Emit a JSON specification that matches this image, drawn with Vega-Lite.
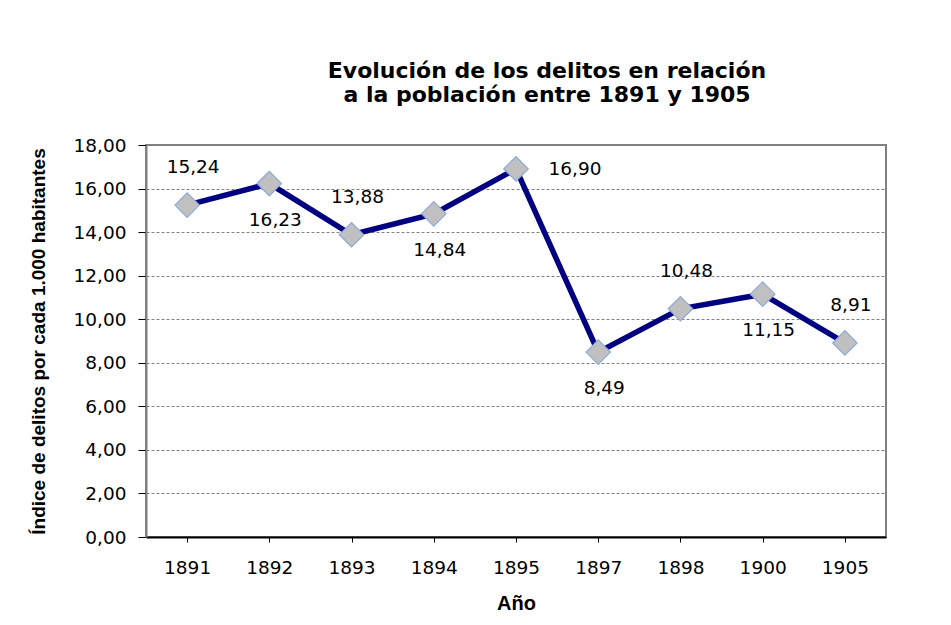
{
  "$schema": "https://vega.github.io/schema/vega-lite/v6.json",
  "width": 740,
  "height": 392,
  "autosize": "none",
  "padding": {"left": 146, "top": 145, "right": 65, "bottom": 88},
  "background": "white",
  "config": {
    "locale": {"number": {"decimal": ",", "thousands": ".", "grouping": [3], "currency": ["", " €"]}},
    "view": {"stroke": "#808080", "strokeWidth": 2},
    "font": "DejaVu Sans"
  },
  "title": {
    "text": ["Evolución de los delitos en relación", "a la población entre 1891 y 1905"],
    "font": "DejaVu Sans",
    "fontSize": 22,
    "fontWeight": "bold",
    "color": "black",
    "anchor": "middle",
    "dx": 31,
    "offset": 29,
    "lineHeight": 24
  },
  "data": {
    "values": [
      {"year": "1891", "indice": 15.24},
      {"year": "1892", "indice": 16.23},
      {"year": "1893", "indice": 13.88},
      {"year": "1894", "indice": 14.84},
      {"year": "1895", "indice": 16.90},
      {"year": "1897", "indice": 8.49},
      {"year": "1898", "indice": 10.48},
      {"year": "1900", "indice": 11.15},
      {"year": "1905", "indice": 8.91}
    ]
  },
  "encoding": {
    "x": {
      "field": "year",
      "type": "ordinal",
      "sort": null,
      "scale": {"paddingInner": 0, "paddingOuter": 0},
      "axis": {
        "title": "Año",
        "titleFont": "Liberation Sans",
        "titleFontSize": 20,
        "titleFontWeight": "bold",
        "titleColor": "black",
        "titlePadding": 17,
        "labelAngle": 0,
        "labelFont": "DejaVu Sans",
        "labelFontSize": 18.5,
        "labelColor": "black",
        "labelPadding": 16,
        "domainColor": "black",
        "domainWidth": 2,
        "tickColor": "black",
        "tickSize": 5,
        "tickWidth": 1,
        "grid": false
      }
    },
    "y": {
      "field": "indice",
      "type": "quantitative",
      "scale": {"domain": [0, 18], "nice": false, "zero": true},
      "axis": {
        "title": "Índice de delitos por cada 1.000 habitantes",
        "titleFont": "Liberation Sans",
        "titleFontSize": 19,
        "titleFontWeight": "bold",
        "titleColor": "black",
        "titlePadding": 25,
        "values": [0, 2, 4, 6, 8, 10, 12, 14, 16, 18],
        "format": ".2f",
        "labelFont": "DejaVu Sans",
        "labelFontSize": 18.5,
        "labelColor": "black",
        "labelPadding": 12,
        "domainColor": "#808080",
        "domainWidth": 2,
        "tickColor": "black",
        "tickSize": 8,
        "tickWidth": 1,
        "grid": true,
        "gridColor": "#808080",
        "gridDash": [3, 2],
        "gridWidth": 1
      }
    }
  },
  "layer": [
    {
      "mark": {"type": "line", "color": "#000080", "strokeWidth": 5.5}
    },
    {
      "mark": {"type": "point", "shape": "diamond", "size": 600, "filled": true, "fill": "#C0C0C0", "stroke": "#8EA9DB", "strokeWidth": 1.2, "opacity": 1}
    },
    {
      "transform": [{"filter": {"field": "year", "oneOf": ["1891", "1893", "1898", "1905"]}}],
      "mark": {"type": "text", "font": "DejaVu Sans", "fontSize": 18.5, "color": "black", "dy": -38, "dx": 6},
      "encoding": {"text": {"field": "indice", "type": "quantitative", "format": ".2f"}}
    },
    {
      "transform": [{"filter": {"field": "year", "oneOf": ["1892", "1894", "1897", "1900"]}}],
      "mark": {"type": "text", "font": "DejaVu Sans", "fontSize": 18.5, "color": "black", "dy": 36, "dx": 6},
      "encoding": {"text": {"field": "indice", "type": "quantitative", "format": ".2f"}}
    },
    {
      "transform": [{"filter": {"field": "year", "equal": "1895"}}],
      "mark": {"type": "text", "font": "DejaVu Sans", "fontSize": 18.5, "color": "black", "dy": 0, "dx": 59},
      "encoding": {"text": {"field": "indice", "type": "quantitative", "format": ".2f"}}
    }
  ]
}
